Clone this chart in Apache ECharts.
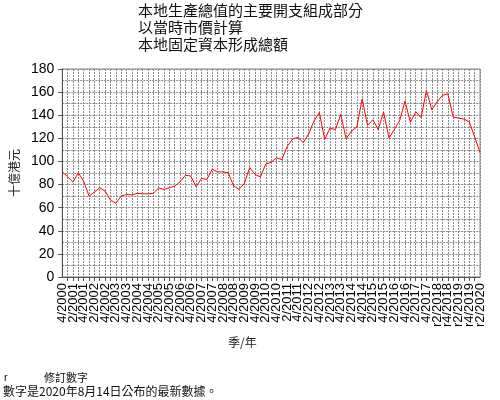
<!DOCTYPE html>
<html>
<head>
<meta charset="utf-8">
<script src="https://cdn.jsdelivr.net/npm/echarts@6/dist/echarts.min.js"></script>
<style>
html,body{margin:0;padding:0;background:#fff;}
#c{width:500px;height:400px;}
</style>
</head>
<body>
<div id="c"></div>
<script>
var titleLines = ['本地生產總值的主要開支組成部分', '以當時市價計算', '本地固定資本形成總額'];
var yAxisName = '十億港元';
var xAxisName = '季/年';
var footnotes = ['r', '修訂數字', '數字是2020年8月14日公布的最新數據。'];

var categories = [
  '4/2000',
  '1/2001','2/2001','3/2001','4/2001',
  '1/2002','2/2002','3/2002','4/2002',
  '1/2003','2/2003','3/2003','4/2003',
  '1/2004','2/2004','3/2004','4/2004',
  '1/2005','2/2005','3/2005','4/2005',
  '1/2006','2/2006','3/2006','4/2006',
  '1/2007','2/2007','3/2007','4/2007',
  '1/2008','2/2008','3/2008','4/2008',
  '1/2009','2/2009','3/2009','4/2009',
  '1/2010','2/2010','3/2010','4/2010',
  '1/2011','2/2011','3/2011','4/2011',
  '1/2012','2/2012','3/2012','4/2012',
  '1/2013','2/2013','3/2013','4/2013',
  '1/2014','2/2014','3/2014','4/2014',
  '1/2015','2/2015','3/2015','4/2015',
  '1/2016','2/2016','3/2016','4/2016',
  '1/2017','2/2017','3/2017','4/2017',
  'r1/2018','r2/2018','r3/2018','r4/2018',
  'r1/2019','r2/2019','r3/2019','r4/2019',
  'r1/2020','r2/2020'
];

var values = [
  91.0,
  86.7, 82.1, 90.2, 83.0,
  70.0, 73.5, 77.2, 74.4,
  66.6, 63.8, 70.0, 71.5,
  71.0, 72.4, 72.0, 72.0,
  72.4, 77.0, 75.8, 77.2,
  78.7, 82.4, 88.1, 87.3,
  78.1, 85.3, 84.4, 93.3,
  91.0, 91.0, 90.2, 78.7,
  75.8, 81.0, 94.7, 88.7,
  86.7, 97.8, 99.3, 103.0,
  101.6, 113.0, 119.4, 120.9,
  116.3, 123.7, 135.0, 142.4,
  118.9, 128.9, 127.5, 140.7,
  119.7, 126.3, 129.8, 154.2,
  131.2, 136.1, 127.5, 142.7,
  120.3, 127.5, 135.5, 152.2,
  133.8, 143.0, 137.8, 161.4,
  144.7, 151.6, 157.3, 158.5,
  138.4, 137.5, 136.7, 134.4,
  121.2, 107.8
];

var yMin = 0, yMax = 180, yStep = 20;

var gridStyle = {color: '#8a8a8a', width: 1, type: [2, 1]};
var cjk = '"Noto Sans CJK TC", "Noto Sans CJK SC", sans-serif';
var latin = '"Liberation Sans", Arial, sans-serif';
var lastIdx = categories.length - 1;

var labelStyle = {rotate: 90, margin: 6, color: '#000', fontFamily: latin, fontSize: 13};

var chart = echarts.init(document.getElementById('c'), null, {renderer: 'canvas'});
chart.setOption({
  animation: false,
  backgroundColor: '#ffffff',
  grid: {left: 62, right: 20, top: 69, bottom: 123, containLabel: false,
         show: true, borderColor: '#8a8a8a', borderWidth: 1},
  xAxis: [{
    type: 'category',
    data: categories,
    boundaryGap: false,
    position: 'bottom',
    axisLine: {show: true, lineStyle: {color: '#555', width: 1}},
    axisTick: {show: true, interval: 0, length: 4, lineStyle: {color: '#555'}},
    axisLabel: Object.assign({interval: 1, showMinLabel: false, showMaxLabel: false}, labelStyle),
    splitLine: {show: true, interval: 0, lineStyle: gridStyle}
  }, {
    type: 'category',
    data: categories,
    boundaryGap: false,
    position: 'bottom',
    axisLine: {show: false},
    axisTick: {show: false},
    axisLabel: Object.assign({
      interval: function (i) { return i === 0 || i === lastIdx; },
      showMinLabel: true, showMaxLabel: true}, labelStyle),
    splitLine: {show: false}
  }],
  yAxis: {
    type: 'value',
    min: yMin, max: yMax, interval: yStep,
    name: yAxisName,
    nameLocation: 'middle',
    nameGap: 30,
    nameRotate: 90,
    nameTextStyle: {fontFamily: cjk, fontSize: 12, color: '#222'},
    axisLine: {show: true, lineStyle: {color: '#555', width: 1}},
    axisTick: {show: true, length: 4, lineStyle: {color: '#555'}},
    axisLabel: {margin: 8, color: '#000', fontFamily: latin, fontSize: 14},
    splitLine: {show: true, lineStyle: gridStyle},
    minorTick: {show: false, splitNumber: 2},
    minorSplitLine: {show: true, lineStyle: gridStyle}
  },
  series: [{
    type: 'line',
    xAxisIndex: 0,
    data: values,
    symbol: 'none',
    lineStyle: {color: '#ff0000', width: 1},
    itemStyle: {color: '#ff0000'}
  }],
  graphic: [
    {type: 'text', left: 138, top: 2,
     style: {text: titleLines.join('\n'), fontFamily: cjk, fontSize: 15, lineHeight: 17, fill: '#111'}},
    {type: 'text', left: 228, top: 336,
     style: {text: xAxisName, fontFamily: cjk, fontSize: 12, fill: '#222'}},
    {type: 'text', left: 4, top: 372,
     style: {text: footnotes[0], fontFamily: latin, fontSize: 11, fill: '#111'}},
    {type: 'text', left: 44, top: 372,
     style: {text: footnotes[1], fontFamily: cjk, fontSize: 11, fill: '#111'}},
    {type: 'text', left: 3, top: 385,
     style: {text: footnotes[2], fontFamily: cjk, fontSize: 12, fill: '#111'}}
  ]
});
</script>
</body>
</html>
